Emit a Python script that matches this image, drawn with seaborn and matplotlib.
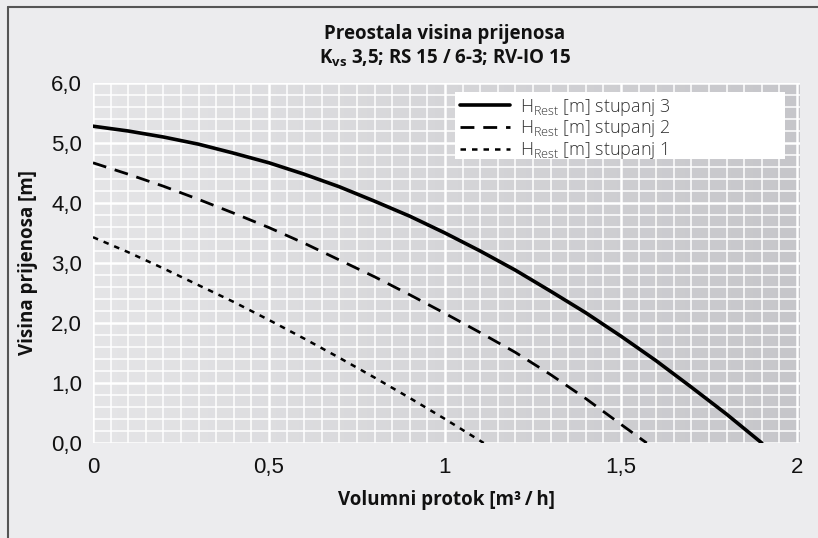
import numpy as np
import pandas as pd
import matplotlib
matplotlib.use("Agg")
import matplotlib.pyplot as plt
from matplotlib.colors import LinearSegmentedColormap
from matplotlib.lines import Line2D
from matplotlib.patches import Rectangle
import seaborn as sns

# ---- data ----
x3 = [0.0, 0.1, 0.2, 0.3, 0.4, 0.5, 0.6, 0.7, 0.8, 0.9, 1.0, 1.1, 1.2, 1.3, 1.4, 1.5, 1.6, 1.7, 1.8, 1.9]
h3 = [5.28, 5.20, 5.10, 4.98, 4.83, 4.67, 4.48, 4.27, 4.03, 3.78, 3.50, 3.20, 2.88, 2.53, 2.17, 1.78, 1.37, 0.93, 0.48, 0.0]
x2 = [0.0, 0.1, 0.2, 0.3, 0.4, 0.5, 0.6, 0.7, 0.8, 0.9, 1.0, 1.1, 1.2, 1.3, 1.4, 1.5, 1.573]
h2 = [4.67, 4.48, 4.28, 4.06, 3.83, 3.59, 3.33, 3.05, 2.77, 2.47, 2.16, 1.84, 1.51, 1.14, 0.74, 0.31, 0.0]
x1 = [0.0, 0.1, 0.2, 0.3, 0.4, 0.5, 0.6, 0.7, 0.8, 0.9, 1.0, 1.11]
h1 = [3.43, 3.18, 2.91, 2.63, 2.35, 2.05, 1.74, 1.42, 1.09, 0.75, 0.40, 0.0]

labels = [r"H$_\mathregular{Rest}$ [m] stupanj 3",
          r"H$_\mathregular{Rest}$ [m] stupanj 2",
          r"H$_\mathregular{Rest}$ [m] stupanj 1"]
xticks = [0, 0.5, 1, 1.5, 2]
xticklabels = ["0", "0,5", "1", "1,5", "2"]
yticks = [0, 1, 2, 3, 4, 5, 6]
yticklabels = ["0,0", "1,0", "2,0", "3,0", "4,0", "5,0", "6,0"]
title1 = "Preostala visina prijenosa"
title2 = r"K$_\mathbf{vs}$ 3,5; RS 15 / 6-3; RV-IO 15"
xlabel = "Volumni protok [m³\u2009/\u2009h]"
ylabel = "Visina prijenosa [m]"

sns.set_theme(style="white")
plt.rcParams["font.family"] = ["Open Sans", "DejaVu Sans"]
plt.rcParams["mathtext.fontset"] = "custom"
plt.rcParams["mathtext.rm"] = "Open Sans:light"
plt.rcParams["mathtext.bf"] = "Open Sans:bold"

BG = "#ececee"
W, H = 818, 538
fig = plt.figure(figsize=(W / 100, H / 100), dpi=100, facecolor=BG)

# frame lines (left & top) of the figure box
fig.add_artist(Line2D([8 / W, 8 / W], [0, 1 - 7 / H], transform=fig.transFigure, color="#555555", lw=1.5))
fig.add_artist(Line2D([8 / W, 1], [1 - 7 / H, 1 - 7 / H], transform=fig.transFigure, color="#555555", lw=1.5))

ax_l, ax_r, ax_t, ax_b = 93, 800, 83, 443
ax = fig.add_axes([ax_l / W, (H - ax_b) / H, (ax_r - ax_l) / W, (ax_b - ax_t) / H])
ax.set_facecolor(BG)
xmax = 2.0 * (ax_r - ax_l) / (797 - ax_l)
ax.set_xlim(0, xmax)
ax.set_ylim(0, 6)

# gradient background
cmap = LinearSegmentedColormap.from_list("g", ["#e5e5e7", "#c6c6ca"])
grad = np.linspace(0, 1, 256).reshape(1, -1)
ax.imshow(grad, extent=[0, xmax, 0, 6], aspect="auto", cmap=cmap, zorder=0)

# grid
for xv in np.arange(0.0, xmax, 0.05):
    major = abs(xv / 0.5 - round(xv / 0.5)) < 1e-6
    ax.axvline(xv, color="white", lw=1.8 if major else 1.1, zorder=1)
for yv in np.arange(0.0, 6.01, 0.2):
    major = abs(yv - round(yv)) < 1e-6
    ax.axhline(yv, color="white", lw=1.8 if major else 1.1, zorder=1)

for s in ax.spines.values():
    s.set_visible(False)

df3 = pd.DataFrame({"x": x3, "h": h3})
df2 = pd.DataFrame({"x": x2, "h": h2})
df1 = pd.DataFrame({"x": x1, "h": h1})
sns.lineplot(data=df3, x="x", y="h", ax=ax, color="black", lw=2.6, label=labels[0], zorder=3)
sns.lineplot(data=df2, x="x", y="h", ax=ax, color="black", lw=2.0, label=labels[1], zorder=3,
             dashes=False, linestyle=(0, (5, 3.2)))
sns.lineplot(data=df1, x="x", y="h", ax=ax, color="black", lw=1.8, label=labels[2], zorder=3,
             dashes=False, linestyle=(0, (2.2, 2.4)))

ax.set_xticks(xticks)
ax.set_xticklabels(xticklabels)
ax.set_yticks(yticks)
ax.set_yticklabels(yticklabels)
ax.tick_params(axis="both", length=0, labelsize=16, colors="#111111")
ax.tick_params(axis="x", pad=10)
ax.tick_params(axis="y", pad=8)
for lab in ax.get_xticklabels() + ax.get_yticklabels():
    lab.set_fontfamily(["Liberation Sans", "DejaVu Sans"])

ax.set_xlabel(xlabel, fontsize=13.5, fontweight="bold", labelpad=9, color="#111111")
ax.set_ylabel(ylabel, fontsize=13.5, fontweight="bold", labelpad=9, color="#111111")

fig.text((ax_l + 797) / 2 / W, 1 - 34 / H, title1, ha="center", va="center",
         fontsize=13.5, fontweight="bold", color="#111111")
fig.text((ax_l + 797) / 2 / W, 1 - 58 / H, title2, ha="center", va="center",
         fontsize=13.5, fontweight="bold", color="#111111")

# white legend panel (wider than its content, as in the reference)
ax.add_patch(Rectangle((455 / W, 1 - 159 / H), (785 - 455) / W, (159 - 92) / H,
                       transform=fig.transFigure, facecolor="white", edgecolor="none",
                       zorder=4, clip_on=False))
leg = ax.legend(loc="upper left", bbox_to_anchor=(455 / W, 1 - 92 / H), bbox_transform=fig.transFigure,
                frameon=False, fontsize=13, handlelength=2.8, handletextpad=0.55, labelspacing=0.05,
                borderpad=0.25, borderaxespad=0)
leg.set_zorder(6)
for t in leg.get_texts():
    t.set_fontweight("light")
    t.set_color("#333333")

fig.savefig("out.png", dpi=100, facecolor=BG)
